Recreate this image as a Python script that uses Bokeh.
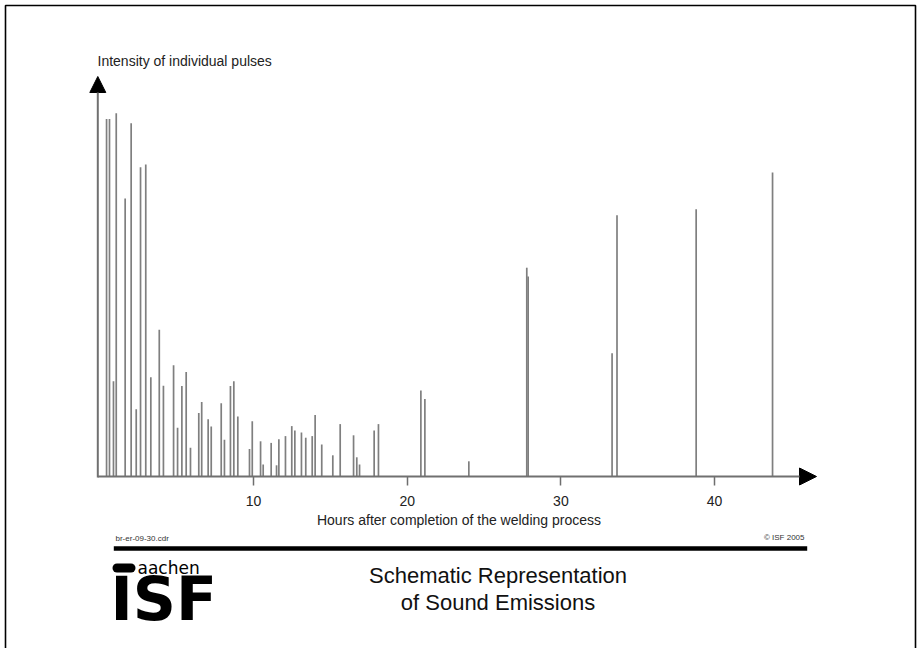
from bokeh.plotting import figure
from bokeh.models import Arrow, NormalHead, Label, FixedTicker, Range1d
from bokeh.embed import file_html
from bokeh.resources import INLINE

# ---- data ----
hours = [0.44, 0.63, 0.89, 1.07, 1.65, 2.04, 2.37, 2.65, 2.99, 3.32,
         3.87, 4.14, 4.80, 5.06, 5.34, 5.62, 5.90, 6.44, 6.63, 7.05,
         7.25, 7.90, 8.11, 8.50, 8.72, 8.98, 9.74, 9.92, 10.46, 10.63,
         11.15, 11.50, 11.65, 12.08, 12.49, 12.69, 13.12, 13.40, 13.82, 14.01,
         14.44, 15.16, 15.64, 16.51, 16.72, 16.90, 17.85, 18.13, 20.89, 21.15,
         24.01, 27.78, 27.87, 33.33, 33.65, 38.80, 43.77]
intensity = [89.4, 89.4, 23.8, 90.8, 69.5, 88.3, 16.8, 77.3, 78.0, 24.8,
             36.7, 22.7, 27.8, 12.2, 22.6, 26.1, 7.2, 15.9, 18.6, 14.3,
             12.5, 18.3, 9.2, 22.6, 23.8, 15.0, 6.9, 13.8, 8.8, 3.0,
             8.4, 2.8, 9.3, 10.1, 12.6, 11.5, 11.0, 9.7, 10.1, 15.4,
             8.0, 5.3, 13.1, 10.3, 4.8, 3.0, 11.5, 13.1, 21.5, 19.4,
             3.8, 52.2, 50.0, 30.8, 65.3, 66.8, 76.0]
x_ticks = [10, 20, 30, 40]
x_title = "Hours after completion of the welding process"
y_title = "Intensity of individual pulses"
title_lines = ["Schematic Representation", "of Sound Emissions"]
file_note = "br-er-09-30.cdr"
copyright_note = "\u00a9 ISF 2005"
logo_small = "aachen"
logo_big = "ISF"

# ---- layout helpers (page pixel -> data) ----
W, H = 917, 648
PX_PER_HOUR = 15.37
X0_PAGE = 99.3
BASE_PAGE = 476.0
PX_PER_UNIT = 4.0


def X(px):
    return (px - X0_PAGE) / PX_PER_HOUR


def Y(py):
    return (BASE_PAGE - py) / PX_PER_UNIT


FONT = "Liberation Sans"

p = figure(width=W, height=H, output_backend="svg", toolbar_location=None, tools="",
           x_range=Range1d(X(0), X(W)), y_range=Range1d(Y(H), Y(0)),
           y_axis_location=None,
           min_border_left=0, min_border_right=0, min_border_top=0, min_border_bottom=0)
p.outline_line_color = None
p.xgrid.visible = False
p.ygrid.visible = False
p.background_fill_color = "white"
p.border_fill_color = "white"

ax = p.xaxis[0]
ax.fixed_location = 0
ax.ticker = FixedTicker(ticks=x_ticks)
ax.axis_line_color = None
ax.major_tick_line_color = "#6e6e6e"
ax.major_tick_line_width = 1.5
ax.major_tick_in = 0
ax.major_tick_out = 9
ax.minor_tick_line_color = None
ax.major_label_text_font = FONT
ax.major_label_text_font_size = "14px"
ax.major_label_text_color = "#222222"
ax.major_label_standoff = 10
ax.axis_label = x_title
ax.axis_label_text_font = FONT
ax.axis_label_text_font_size = "14px"
ax.axis_label_text_font_style = "normal"
ax.axis_label_text_color = "#222222"
ax.axis_label_standoff = 3

# pulses
p.segment(x0=hours, y0=0, x1=hours, y1=intensity, line_color="#7f7f7f", line_width=1.7)

# axes with arrow heads
p.add_layout(Arrow(end=NormalHead(size=17, fill_color="black", line_color="black"),
                   x_start=X(97.3), y_start=0, x_end=X(816), y_end=0,
                   line_color="#707070", line_width=2))
p.add_layout(Arrow(end=NormalHead(size=16, fill_color="black", line_color="black"),
                   x_start=X(97.3), y_start=Y(477), x_end=X(97.3), y_end=Y(76),
                   line_color="#707070", line_width=2))

p.add_layout(Label(x=X(97), y=Y(60), text=y_title, text_align="left", text_baseline="middle",
                   text_font=FONT, text_font_size="14px", text_color="#222222"))

# page frame
p.multi_line(xs=[[X(5), X(5), X(915), X(915)]], ys=[[Y(660), Y(5), Y(5), Y(660)]],
             line_color="black", line_width=1.6)

# footer
p.add_layout(Label(x=X(115), y=Y(537.5), text=file_note, text_align="left", text_baseline="middle",
                   text_font=FONT, text_font_size="8px", text_color="#333333"))
p.add_layout(Label(x=X(804), y=Y(537), text=copyright_note, text_align="right", text_baseline="middle",
                   text_font=FONT, text_font_size="8px", text_color="#333333"))
p.segment(x0=[X(113.3)], y0=[Y(548)], x1=[X(806.7)], y1=[Y(548)], line_color="black", line_width=4.5)

# logo
p.segment(x0=[X(116.5)], y0=[Y(567.5)], x1=[X(130.5)], y1=[Y(567.5)], line_color="black",
          line_width=9, line_cap="round")
p.add_layout(Label(x=X(137), y=Y(567), text=logo_small, text_align="left", text_baseline="middle",
                   text_font="DejaVu Sans", text_font_size="17px", text_color="black"))
p.add_layout(Label(x=X(110), y=Y(598), text=logo_big, text_align="left", text_baseline="middle",
                   text_font="DejaVu Sans", text_font_style="bold", text_font_size="60px",
                   text_color="black"))

# title
for i, line in enumerate(title_lines):
    p.add_layout(Label(x=X(497.5), y=Y(575 + 27 * i), text=line, text_align="center",
                       text_baseline="middle", text_font=FONT, text_font_size="22px",
                       text_color="#111111"))

open("out.html", "w", encoding="utf-8").write(file_html(p, INLINE))
